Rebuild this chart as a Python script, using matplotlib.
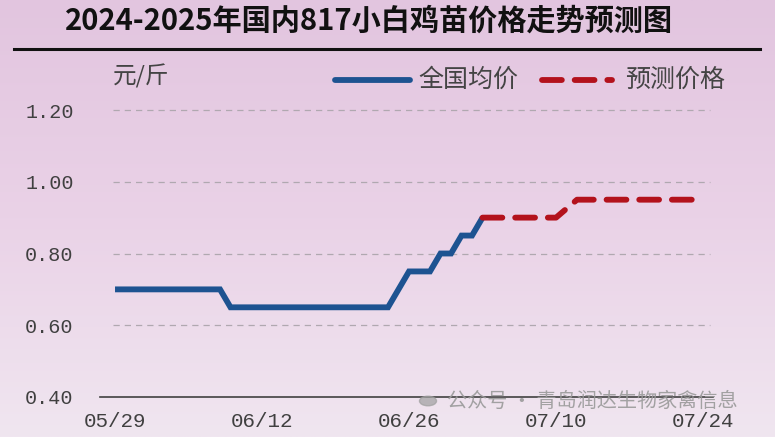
import numpy as np
import matplotlib
matplotlib.use("Agg")
import matplotlib.pyplot as plt
from matplotlib.lines import Line2D

plt.rcParams['font.family'] = ['Noto Sans CJK SC', 'DejaVu Sans']

# Data (day offsets from 05/29)
actual_days = [0, 10, 11, 26, 28, 30, 31, 32, 33, 34, 35]
actual_vals = [0.70, 0.70, 0.65, 0.65, 0.75, 0.75, 0.80, 0.80, 0.85, 0.85, 0.90]
fc_days = [35, 42, 44, 56]
fc_vals = [0.90, 0.90, 0.95, 0.95]
tick_days = [0, 14, 28, 42, 56]
tick_labels = ['05/29', '06/12', '06/26', '07/10', '07/24']
y_ticks = [0.40, 0.60, 0.80, 1.00, 1.20]

W, H = 775, 437
fig = plt.figure(figsize=(W / 100, H / 100), dpi=100)

# background gradient
bg = fig.add_axes([0, 0, 1, 1], zorder=-10)
top = np.array([0xe2, 0xc5, 0xdf]) / 255
mid = np.array([0xea, 0xd2, 0xe7]) / 255
bot = np.array([0xf0, 0xe6, 0xf0]) / 255
t = np.linspace(0, 1, 200)[:, None]
grad = np.where(t < 0.5, top + (mid - top) * (t / 0.5), mid + (bot - mid) * ((t - 0.5) / 0.5))
bg.imshow(grad[:, None, :].repeat(2, axis=1), aspect='auto', extent=[0, 1, 0, 1])
bg.axis('off')

ax = fig.add_axes([100 / W, 40 / H, 613 / W, 287 / H])
ax.patch.set_alpha(0)
ax.set_xlim(-1.43, 56.95)
ax.set_ylim(0.40, 1.20)

for y in y_ticks[1:]:
    ax.plot([-0.2, 56.7], [y, y], color='#b0a8b0', lw=0.9, ls=(0, (5, 4)), zorder=1, clip_on=False)

ax.plot(actual_days, actual_vals, color='#1d5391', lw=4.2, solid_joinstyle='miter',
        solid_capstyle='butt', zorder=3)
ax.plot(fc_days, fc_vals, color='#b3121c', lw=4.2, ls=(0, (3.4, 2.2)),
        dash_capstyle='round', zorder=3)

for s in ['top', 'right', 'left']:
    ax.spines[s].set_visible(False)
ax.spines['bottom'].set_color('#404040')
ax.spines['bottom'].set_linewidth(1.2)
mono = ['Liberation Mono', 'DejaVu Sans Mono']
ax.set_yticks(y_ticks)
ax.set_yticklabels([f'{v:.2f}' for v in y_ticks], family=mono, fontsize=14.5, color='#404040')
ax.set_xticks(tick_days)
ax.set_xticklabels(tick_labels, family=mono, fontsize=15, color='#404040')
ax.tick_params(axis='both', length=0)
ax.tick_params(axis='y', pad=19)
ax.tick_params(axis='x', pad=11)

# title
fig.text(369 / W, 1 - 21 / H, '2024-2025年国内817小白鸡苗价格走势预测图', ha='center', va='center',
         fontsize=21, fontweight='bold', color='#111111')
fig.add_artist(Line2D([14 / W, 760 / W], [1 - 49 / H, 1 - 49 / H], color='#111111', lw=2.2))

# unit
fig.text(113 / W, 1 - 76 / H, '元/斤', ha='left', va='center', fontsize=17, color='#444444')

# legend
fig.add_artist(Line2D([335 / W, 410 / W], [1 - 80 / H] * 2, color='#1d5391', lw=4.2,
                      solid_capstyle='round'))
fig.text(418 / W, 1 - 80 / H, '全国均价', ha='left', va='center', fontsize=18, color='#444444')
fig.add_artist(Line2D([542 / W, 612 / W], [1 - 80 / H] * 2, color='#b3121c', lw=4.2,
                      ls=(0, (3.4, 2.2)), dash_capstyle='round'))
fig.text(625 / W, 1 - 80 / H, '预测价格', ha='left', va='center', fontsize=18, color='#444444')

# watermark
fig.text(447 / W, 1 - 401 / H, '公众号 · 青岛润达生物家禽信息', ha='left', va='center',
         fontsize=14.5, color='#9a9a9a', alpha=0.9)
fig.add_artist(plt.Circle((428 / W, 1 - 401 / H), 0.011, color='#a0a0a0', alpha=0.7,
                          transform=fig.transFigure))

fig.savefig('out.png', dpi=100)
